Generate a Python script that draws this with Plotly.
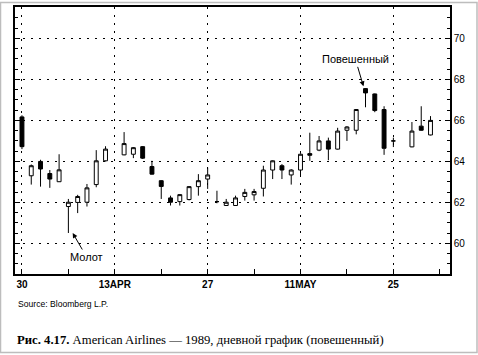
import plotly.graph_objects as go

# Trading-day index (0 = 30 Mar 1989); days 10 and 41 have no candle in the source
day = [0, 1, 2, 3, 4, 5, 6, 7, 8, 9,
       11, 12, 13, 14, 15, 16, 17, 18, 19, 20,
       21, 22, 23, 24, 25, 26, 27, 28, 29, 30,
       31, 32, 33, 34, 35, 36, 37, 38, 39, 40,
       42, 43, 44]
open_ = [66.17, 63.30, 64.00, 63.41, 63.01, 61.80, 62.00, 62.01, 62.87, 64.03,
         64.32, 64.35, 64.72, 63.75, 63.06, 62.22, 62.04, 62.14, 62.77, 63.14,
         62.04, 61.85, 61.85, 62.29, 62.37, 62.69, 63.58, 63.79, 63.34, 63.58,
         64.38, 64.55, 65.00, 64.60, 65.52, 65.52, 67.55, 67.29, 66.53, 65.00,
         64.71, 65.72, 65.29]
high = [66.25, 63.85, 64.08, 63.58, 64.35, 62.17, 62.37, 62.90, 64.55, 64.74,
        65.43, 64.70, 64.75, 64.03, 63.08, 62.33, 62.40, 62.80, 63.38, 63.70,
        62.57, 62.17, 62.33, 62.66, 62.66, 63.79, 64.05, 63.87, 63.62, 64.40,
        65.40, 65.24, 65.16, 65.64, 65.72, 66.55, 67.58, 67.31, 66.69, 65.16,
        65.92, 66.69, 66.21]
low = [64.60, 62.87, 62.77, 62.71, 63.00, 60.51, 61.48, 61.80, 62.74, 64.00,
       64.30, 64.16, 64.12, 63.36, 62.17, 61.85, 61.85, 62.10, 62.33, 62.66,
       61.96, 61.85, 61.83, 62.09, 62.09, 62.29, 63.14, 63.14, 62.87, 63.30,
       64.03, 64.50, 64.06, 64.58, 65.00, 65.32, 66.64, 66.40, 64.32, 64.70,
       64.69, 65.50, 65.27]
close = [64.72, 63.79, 63.63, 63.14, 63.59, 62.01, 62.29, 62.71, 64.03, 64.60,
         64.87, 64.67, 64.16, 63.38, 62.78, 62.01, 62.38, 62.77, 63.06, 63.34,
         62.04, 62.01, 62.22, 62.49, 62.53, 63.58, 64.03, 63.58, 63.58, 64.35,
         64.30, 65.00, 64.60, 65.48, 65.68, 66.53, 67.34, 66.48, 64.64, 65.00,
         65.48, 65.52, 66.00]

x_tick_vals = [0, 10, 20, 30, 40]
x_tick_text = ["30", "13APR", "27", "11MAY", "25"]
y_tick_vals = [60, 62, 64, 66, 68, 70]

W, H = 478, 355
ML, MR, MT, MB = 15, 28, 5, 81
pw, ph = W - ML - MR, H - MT - MB

def px_x(px):
    return (px - ML) / pw

def px_y(py):
    return (H - MB - py) / ph

fig = go.Figure()
fig.add_trace(go.Candlestick(
    x=day, open=open_, high=high, low=low, close=close,
    increasing=dict(line=dict(color="black", width=1), fillcolor="white"),
    decreasing=dict(line=dict(color="black", width=1), fillcolor="black"),
    whiskerwidth=0, showlegend=False, hoverinfo="skip",
))

dotgrid = dict(showgrid=True, gridcolor="black", gridwidth=1, griddash="2px,6px")

fig.update_xaxes(
    range=[-0.75, 46.1], rangeslider=dict(visible=False),
    tickmode="array", tickvals=x_tick_vals, ticktext=x_tick_text,
    ticks="inside", ticklen=5, tickcolor="black",
    showline=True, linecolor="black", linewidth=1.5, mirror=True,
    zeroline=False,
    tickfont=dict(family="Liberation Sans, Arial", size=10, color="black", weight="bold"),
    minor=dict(dtick=5, tick0=0, ticks="inside", ticklen=5, tickcolor="black", showgrid=False),
    **dotgrid,
)
fig.update_yaxes(
    range=[58.51, 71.53], side="right",
    tickmode="array", tickvals=y_tick_vals,
    ticks="inside", ticklen=5, tickcolor="black",
    showline=True, linecolor="black", linewidth=1.5, mirror="ticks",
    zeroline=False,
    tickfont=dict(family="Liberation Sans, Arial", size=10, color="black"),
    minor=dict(dtick=0.5, tick0=0, ticks="inside", ticklen=3, tickcolor="black", showgrid=False),
    **dotgrid,
)

ann_font = dict(family="Liberation Sans, Arial", size=11, color="black")
fig.add_annotation(x=5.46, y=60.51, text="Молот", font=ann_font,
                   showarrow=True, arrowhead=2, arrowsize=1, arrowwidth=1,
                   arrowcolor="black", ax=14, ay=24, standoff=0)
fig.add_annotation(x=36.78, y=67.66, text="Повешенный", font=ann_font,
                   showarrow=True, arrowhead=2, arrowsize=1, arrowwidth=1,
                   arrowcolor="black", ax=-8, ay=-27, standoff=0)

fig.add_annotation(xref="paper", yref="paper", x=px_x(16), y=px_y(304),
                   xanchor="left", yanchor="middle", showarrow=False,
                   text="Source: Bloomberg L.P.",
                   font=dict(family="Liberation Sans, Arial", size=8.6, color="black"))
fig.add_annotation(xref="paper", yref="paper", x=px_x(15), y=px_y(340),
                   xanchor="left", yanchor="middle", showarrow=False,
                   text="<b>Рис. 4.17.</b> American Airlines — 1989, дневной график (повешенный)",
                   font=dict(family="Liberation Serif, DejaVu Serif", size=12.7, color="black"))

fig.add_shape(type="rect", xref="paper", yref="paper",
              x0=px_x(0.5), x1=px_x(477), y0=px_y(353), y1=px_y(0.5),
              line=dict(color="#bdbdbd", width=1.5), fillcolor="rgba(0,0,0,0)",
              layer="below")

fig.update_layout(
    width=W, height=H,
    margin=dict(l=ML, r=MR, t=MT, b=MB),
    paper_bgcolor="white", plot_bgcolor="white",
    boxgap=0.4,
)

fig.write_html("out.html",
               config={"displayModeBar": False},
               post_script="document.body.style.margin='0';document.body.style.overflow='hidden';")
